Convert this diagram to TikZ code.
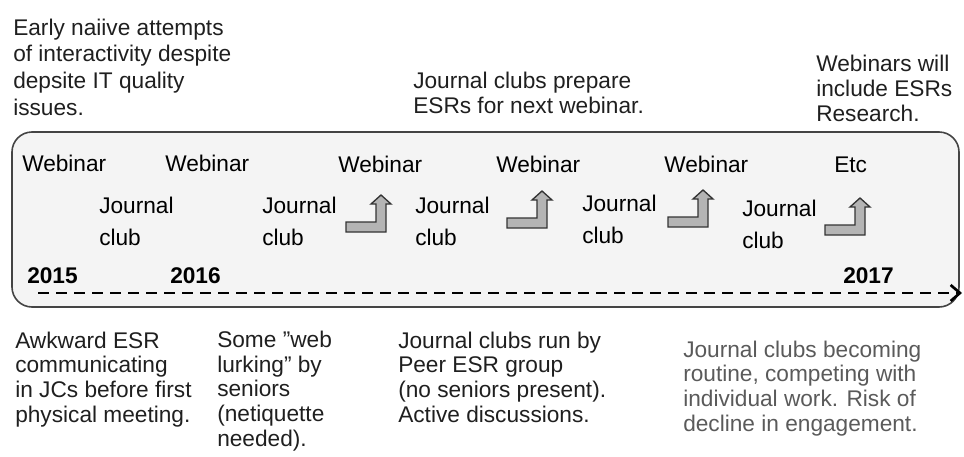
\documentclass[tikz,border=0pt]{standalone}
\usepackage{fontspec}
\setmainfont{Liberation Sans}
\usetikzlibrary{arrows.meta}

\definecolor{boxfill}{HTML}{F4F4F4}
\definecolor{boxline}{HTML}{444444}
\definecolor{arrowfill}{HTML}{B4B4B4}
\definecolor{notegray}{HTML}{5A5A5A}

\begin{document}
\begin{tikzpicture}[x=0.75pt,y=-0.75pt,
  every node/.style={inner sep=0pt,anchor=base west,font=\fontsize{17}{18.4}\selectfont},
  note/.style={align=left,text=black!88},
  stage/.style={align=left,font=\fontsize{17}{23.5}\selectfont},
  year/.style={font=\fontsize{17}{18}\selectfont\bfseries},
  bentup/.pic={\draw[line width=1pt,draw=black!80,fill=arrowfill] (0,0) -- (40,0) -- (40,-28) -- (45,-28) -- (35,-37) -- (25,-28) -- (30,-28) -- (30,-10) -- (0,-10) -- cycle;}]
\useasboundingbox (0,0) rectangle (964,457);

% Notes above (nodes sit on the baseline of their last line)
\node[note,font=\fontsize{17}{20}\selectfont] (naive) at (13,115) {Early naiive attempts\\of interactivity despite\\depsite IT quality\\issues.};
\node[note] (prepare) at (413,113) {Journal clubs prepare\\ESRs for next webinar.};
\node[note] (research) at (816,121) {Webinars will\\include ESRs\\Research.};

% Timeline box
\draw[boxline,line width=1.2pt,fill=boxfill,rounded corners=15pt] (12,132) rectangle (959,307);

% Webinars
\node (weba) at (22,171) {Webinar};
\node (webb) at (165,171) {Webinar};
\node (webc) at (338,172) {Webinar};
\node (webd) at (496,172) {Webinar};
\node (webe) at (664,172) {Webinar};
\node (etc) at (834,172) {Etc};

% Journal clubs
\node[stage] (jca) at (99,245) {Journal\\club};
\node[stage] (jcb) at (262,245) {Journal\\club};
\node[stage] (jcc) at (415,245) {Journal\\club};
\node[stage] (jcd) at (582,243) {Journal\\club};
\node[stage] (jce) at (742,248) {Journal\\club};

% Journal club feeds next webinar
\pic at (346,232) {bentup};
\pic at (507,228) {bentup};
\pic at (668,227) {bentup};
\pic at (825,235) {bentup};

% Years
\node[year] (ya) at (27,283) {2015};
\node[year] (yb) at (170,283) {2016};
\node[year] (yc) at (843,283) {2017};

% Time axis
\coordinate (tstart) at (38,293);
\coordinate (tend) at (962,293);
\draw[dash pattern=on 8.5pt off 5pt,line width=2pt,-{Straight Barb[length=7pt,width=12pt]}] (tstart) -- (tend);

% Notes below
\node[note] (awkward) at (15,422) {Awkward ESR\\communicating\\in JCs before first\\physical meeting.};
\node[note] (lurking) at (217,446) {Some ”web\\lurking” by\\seniors\\(netiquette\\needed).};
\node[note] (peer) at (398,422) {Journal clubs run by\\Peer ESR group\\(no seniors present).\\Active discussions.};
\node[note,text=notegray] (routine) at (683,431) {Journal clubs becoming\\routine, competing with\\individual work. Risk of\\decline in engagement.};

\end{tikzpicture}
\end{document}
